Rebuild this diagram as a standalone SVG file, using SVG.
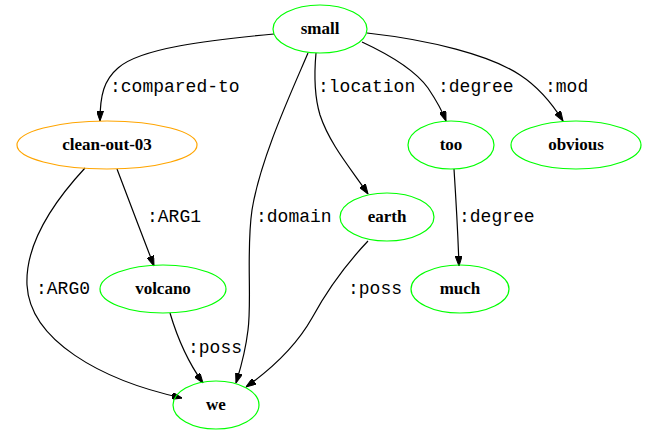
<svg xmlns="http://www.w3.org/2000/svg" width="647" height="435" viewBox="0 0 647 435">
<style>
.node ellipse{fill:none;stroke:#00ff00;stroke-width:1.2}
.node.root ellipse{stroke:#ffa500}
.node text{font-family:"Liberation Serif","Times New Roman",serif;font-weight:bold;font-size:17px;text-anchor:middle;fill:#000}
.edge path{fill:none;stroke:#000;stroke-width:1.2;marker-end:url(#arr)}
.edge text{font-family:"Liberation Mono","Courier New",monospace;font-size:18px;fill:#000}
</style>
<defs>
<marker id="arr" viewBox="0 0 10 7" markerWidth="10" markerHeight="7" refX="10" refY="3.5" orient="auto" markerUnits="userSpaceOnUse">
<path d="M0,0 L10,3.5 L0,7 z" fill="#000" stroke="#000"/>
</marker>
</defs>
<rect width="647" height="435" fill="#fff"/>
<g id="edges" class="edge">
<path d="M274,34 C210,40 140,48 118,68 C104,80 100,95 100,121"/>
<text x="110" y="92">:compared-to</text>
<path d="M308,53 C290,95 260,160 252,210 C246,250 252,300 248,330 C245,355 240,370 236,383"/>
<text x="256" y="222">:domain</text>
<path d="M316,53 C314,75 314,95 320,115 C330,145 352,170 368,194"/>
<text x="318" y="92">:location</text>
<path d="M362,42 C390,55 415,70 428,88 C436,100 442,110 446,121"/>
<text x="438" y="92">:degree</text>
<path d="M367,33 C430,40 490,55 520,75 C540,88 553,105 563,121"/>
<text x="545" y="92">:mod</text>
<path d="M85,168 C60,195 25,240 27,285 C30,340 100,380 182,398"/>
<text x="36" y="294">:ARG0</text>
<path d="M117,169 C128,198 142,235 154,266"/>
<text x="147" y="222">:ARG1</text>
<path d="M170,313 C178,340 190,365 203,383"/>
<text x="188" y="353">:poss</text>
<path d="M368,241 C350,260 330,285 312,318 C295,348 270,370 246,387"/>
<text x="348" y="294">:poss</text>
<path d="M454,169 C456,200 458,235 459,266"/>
<text x="459" y="222">:degree</text>
</g>
<g id="small" class="node"><ellipse cx="320" cy="29" rx="47" ry="24"/><text x="320" y="34">small</text></g>
<g id="clean-out-03" class="node root"><ellipse cx="107" cy="145" rx="90" ry="24"/><text x="107" y="150">clean-out-03</text></g>
<g id="too" class="node"><ellipse cx="451" cy="145" rx="43" ry="24"/><text x="451" y="150">too</text></g>
<g id="obvious" class="node"><ellipse cx="576" cy="145" rx="65" ry="24"/><text x="576" y="150">obvious</text></g>
<g id="earth" class="node"><ellipse cx="387" cy="217" rx="47" ry="24"/><text x="387" y="222">earth</text></g>
<g id="volcano" class="node"><ellipse cx="163" cy="289" rx="63" ry="24"/><text x="163" y="294">volcano</text></g>
<g id="much" class="node"><ellipse cx="460" cy="289" rx="49" ry="24"/><text x="460" y="294">much</text></g>
<g id="we" class="node"><ellipse cx="216" cy="405" rx="43" ry="24"/><text x="216" y="410">we</text></g>
</svg>
